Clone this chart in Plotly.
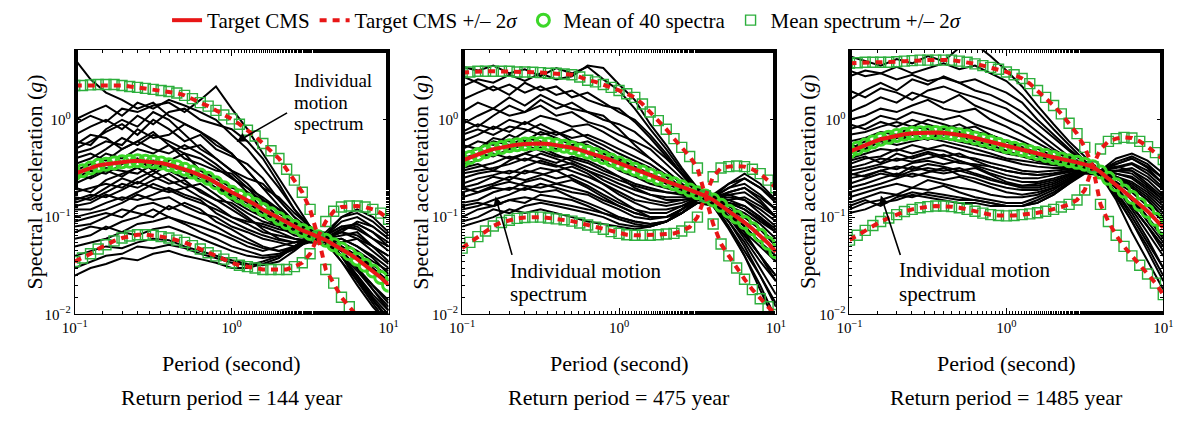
import plotly.graph_objects as go

# Period grids (s)
PERIOD_FINE = [0.1, 0.112, 0.126, 0.141, 0.158, 0.178, 0.2, 0.224, 0.251, 0.282,
               0.316, 0.355, 0.398, 0.447, 0.501, 0.562, 0.631, 0.708, 0.794, 0.891,
               1.0, 1.12, 1.26, 1.41, 1.58, 1.78, 2.0, 2.24, 2.51, 2.82,
               3.16, 3.55, 3.98, 4.47, 5.01, 5.62, 6.31, 7.08, 7.94, 8.91, 10.0]
PERIOD_REC = [0.1, 0.126, 0.158, 0.2, 0.251, 0.316, 0.398, 0.501, 0.631, 0.794,
              1.0, 1.26, 1.58, 2.0, 2.51, 3.16, 3.98, 5.01, 6.31, 7.94, 10.0]

# ---- Return period 144 years ----
CMS_144 = [0.28, 0.30, 0.32, 0.34, 0.35, 0.36, 0.37, 0.375, 0.38, 0.375,
           0.37, 0.36, 0.345, 0.33, 0.31, 0.29, 0.27, 0.25, 0.225, 0.20,
           0.18, 0.165, 0.15, 0.135, 0.12, 0.108, 0.097, 0.088, 0.08, 0.073,
           0.068, 0.063, 0.058, 0.052, 0.047, 0.042, 0.037, 0.032, 0.028, 0.024, 0.020]
UP_144 = [2.25, 2.25, 2.28, 2.3, 2.3, 2.3, 2.25, 2.2, 2.15, 2.1,
          2.05, 2.0, 1.95, 1.88, 1.78, 1.65, 1.5, 1.38, 1.25, 1.12,
          1.02, 0.9, 0.78, 0.68, 0.57, 0.48, 0.4, 0.31, 0.24, 0.18,
          0.12, 0.063, 0.09, 0.115, 0.127, 0.13, 0.13, 0.127, 0.12, 0.11, 0.095]
LO_144 = [0.035, 0.038, 0.042, 0.047, 0.052, 0.057, 0.061, 0.064, 0.066, 0.066,
          0.065, 0.063, 0.061, 0.058, 0.055, 0.051, 0.047, 0.043, 0.04, 0.037,
          0.034, 0.032, 0.031, 0.03, 0.029, 0.029, 0.029, 0.029, 0.031, 0.034,
          0.042, 0.063, 0.029, 0.021, 0.015, 0.012, 0.0095, 0.0075, 0.006, 0.005, 0.004]
REC_144 = [
    [4.2, 2.6, 1.9, 1.6, 1.3, 1.5, 1.1, 0.9, 0.75, 0.6, 0.45, 0.3, 0.2, 0.13, 0.09, 0.07, 0.065, 0.08, 0.075, 0.06, 0.05],
    [0.9, 1.1, 0.95, 1.3, 1.2, 1.4, 1.5, 1.2, 1.6, 2.2, 1.3, 0.8, 0.45, 0.25, 0.14, 0.08, 0.06, 0.07, 0.09, 0.08, 0.06],
    [0.7, 0.85, 1.0, 0.8, 1.1, 0.9, 1.2, 1.3, 1.0, 0.9, 0.8, 0.6, 0.4, 0.22, 0.12, 0.075, 0.055, 0.045, 0.03, 0.018, 0.011],
    [0.5, 0.6, 0.75, 0.9, 0.7, 1.0, 0.8, 0.6, 0.7, 0.5, 0.42, 0.35, 0.25, 0.15, 0.1, 0.07, 0.065, 0.1, 0.12, 0.1, 0.07],
    [0.45, 0.5, 0.6, 0.55, 0.8, 0.65, 0.7, 0.9, 0.75, 0.55, 0.45, 0.3, 0.2, 0.16, 0.11, 0.08, 0.06, 0.04, 0.025, 0.014, 0.009],
    [0.35, 0.4, 0.5, 0.65, 0.55, 0.7, 0.6, 0.5, 0.55, 0.4, 0.3, 0.25, 0.22, 0.15, 0.1, 0.075, 0.06, 0.055, 0.06, 0.05, 0.04],
    [0.3, 0.35, 0.45, 0.4, 0.5, 0.45, 0.55, 0.4, 0.35, 0.3, 0.28, 0.2, 0.14, 0.1, 0.085, 0.07, 0.058, 0.04, 0.025, 0.016, 0.011],
    [0.25, 0.3, 0.28, 0.35, 0.4, 0.3, 0.38, 0.45, 0.3, 0.25, 0.2, 0.18, 0.15, 0.12, 0.09, 0.07, 0.06, 0.065, 0.07, 0.05, 0.035],
    [0.22, 0.26, 0.32, 0.3, 0.28, 0.35, 0.3, 0.25, 0.27, 0.22, 0.16, 0.13, 0.1, 0.085, 0.075, 0.068, 0.06, 0.045, 0.03, 0.02, 0.014],
    [0.2, 0.18, 0.24, 0.28, 0.32, 0.26, 0.22, 0.24, 0.18, 0.15, 0.14, 0.11, 0.09, 0.08, 0.07, 0.065, 0.058, 0.06, 0.05, 0.04, 0.03],
    [0.18, 0.2, 0.22, 0.2, 0.25, 0.3, 0.24, 0.2, 0.22, 0.17, 0.13, 0.1, 0.075, 0.06, 0.055, 0.06, 0.062, 0.04, 0.022, 0.013, 0.008],
    [0.16, 0.15, 0.18, 0.22, 0.2, 0.24, 0.28, 0.22, 0.19, 0.15, 0.12, 0.095, 0.08, 0.07, 0.06, 0.058, 0.055, 0.04, 0.028, 0.018, 0.012],
    [0.15, 0.17, 0.16, 0.19, 0.23, 0.2, 0.18, 0.2, 0.16, 0.13, 0.1, 0.09, 0.085, 0.075, 0.07, 0.062, 0.06, 0.07, 0.065, 0.05, 0.04],
    [0.13, 0.14, 0.17, 0.15, 0.18, 0.22, 0.19, 0.16, 0.14, 0.12, 0.1, 0.085, 0.07, 0.065, 0.06, 0.055, 0.052, 0.045, 0.04, 0.032, 0.025],
    [0.12, 0.12, 0.14, 0.16, 0.15, 0.17, 0.2, 0.17, 0.15, 0.11, 0.09, 0.075, 0.065, 0.058, 0.055, 0.058, 0.06, 0.075, 0.08, 0.06, 0.045],
    [0.1, 0.11, 0.12, 0.14, 0.17, 0.15, 0.16, 0.13, 0.11, 0.1, 0.08, 0.07, 0.06, 0.055, 0.05, 0.055, 0.057, 0.04, 0.024, 0.014, 0.009],
    [0.09, 0.1, 0.11, 0.1, 0.13, 0.14, 0.12, 0.14, 0.12, 0.09, 0.075, 0.06, 0.05, 0.045, 0.05, 0.06, 0.06, 0.055, 0.045, 0.035, 0.028],
    [0.08, 0.085, 0.1, 0.12, 0.11, 0.1, 0.13, 0.11, 0.095, 0.08, 0.065, 0.055, 0.048, 0.045, 0.048, 0.058, 0.065, 0.09, 0.1, 0.08, 0.06],
    [0.07, 0.08, 0.075, 0.09, 0.1, 0.12, 0.1, 0.09, 0.08, 0.07, 0.06, 0.05, 0.045, 0.05, 0.055, 0.062, 0.06, 0.05, 0.04, 0.03, 0.022],
    [0.06, 0.065, 0.08, 0.07, 0.085, 0.09, 0.1, 0.085, 0.07, 0.06, 0.05, 0.045, 0.04, 0.042, 0.05, 0.06, 0.058, 0.04, 0.025, 0.015, 0.01],
    [0.05, 0.055, 0.06, 0.07, 0.065, 0.075, 0.08, 0.07, 0.06, 0.052, 0.045, 0.04, 0.038, 0.04, 0.047, 0.058, 0.062, 0.07, 0.06, 0.045, 0.033],
    [0.04, 0.045, 0.05, 0.048, 0.055, 0.06, 0.058, 0.05, 0.045, 0.04, 0.036, 0.033, 0.032, 0.035, 0.045, 0.06, 0.065, 0.08, 0.085, 0.07, 0.05],
    [0.03, 0.035, 0.04, 0.042, 0.05, 0.048, 0.052, 0.048, 0.042, 0.038, 0.034, 0.032, 0.035, 0.04, 0.05, 0.062, 0.058, 0.04, 0.024, 0.014, 0.009],
    [0.025, 0.03, 0.033, 0.038, 0.036, 0.042, 0.045, 0.04, 0.037, 0.034, 0.03, 0.03, 0.033, 0.038, 0.05, 0.065, 0.07, 0.1, 0.11, 0.09, 0.065],
    [0.55, 0.7, 0.65, 0.5, 0.6, 0.75, 0.55, 0.45, 0.4, 0.32, 0.25, 0.2, 0.16, 0.12, 0.09, 0.07, 0.055, 0.035, 0.02, 0.012, 0.008],
    [0.6, 0.55, 0.8, 1.0, 0.85, 1.2, 1.0, 0.7, 0.5, 0.4, 0.3, 0.22, 0.15, 0.11, 0.085, 0.068, 0.06, 0.045, 0.03, 0.02, 0.013],
    [0.4, 0.45, 0.38, 0.5, 0.6, 0.5, 0.45, 0.55, 0.45, 0.35, 0.26, 0.18, 0.12, 0.09, 0.075, 0.065, 0.062, 0.075, 0.085, 0.07, 0.055],
    [0.28, 0.25, 0.3, 0.26, 0.33, 0.38, 0.33, 0.3, 0.24, 0.2, 0.17, 0.14, 0.11, 0.09, 0.07, 0.06, 0.055, 0.035, 0.022, 0.014, 0.009],
    [0.14, 0.16, 0.2, 0.25, 0.22, 0.28, 0.35, 0.3, 0.26, 0.2, 0.15, 0.12, 0.1, 0.08, 0.065, 0.06, 0.058, 0.06, 0.05, 0.038, 0.026],
    [1.0, 1.2, 1.4, 1.1, 1.5, 1.3, 1.6, 1.4, 1.2, 1.0, 0.7, 0.5, 0.32, 0.2, 0.12, 0.08, 0.06, 0.05, 0.04, 0.028, 0.02],
]

# ---- Return period 475 years ----
CMS_475 = [0.38, 0.41, 0.44, 0.47, 0.50, 0.52, 0.54, 0.555, 0.565, 0.57,
           0.57, 0.565, 0.55, 0.535, 0.515, 0.49, 0.465, 0.44, 0.41, 0.385,
           0.36, 0.335, 0.31, 0.29, 0.27, 0.25, 0.235, 0.22, 0.205, 0.19,
           0.178, 0.165, 0.15, 0.132, 0.115, 0.1, 0.088, 0.076, 0.065, 0.054, 0.044]
UP_475 = [3.05, 3.1, 3.15, 3.15, 3.15, 3.15, 3.15, 3.1, 3.1, 3.08,
          3.05, 3.0, 3.0, 2.95, 2.9, 2.75, 2.55, 2.45, 2.3, 2.15,
          2.0, 1.85, 1.7, 1.45, 1.2, 0.98, 0.8, 0.64, 0.52, 0.42,
          0.32, 0.165, 0.26, 0.32, 0.33, 0.335, 0.33, 0.31, 0.28, 0.24, 0.2]
LO_475 = [0.048, 0.055, 0.063, 0.072, 0.081, 0.088, 0.093, 0.097, 0.099, 0.1,
          0.1, 0.098, 0.096, 0.094, 0.091, 0.087, 0.083, 0.079, 0.075, 0.071,
          0.068, 0.066, 0.065, 0.065, 0.065, 0.066, 0.067, 0.068, 0.072, 0.079,
          0.1, 0.165, 0.085, 0.053, 0.04, 0.03, 0.023, 0.018, 0.0145, 0.012, 0.01]
REC_475 = [
    [3.5, 3.2, 3.6, 3.0, 3.3, 2.8, 3.4, 3.0, 3.5, 2.6, 2.0, 1.3, 0.8, 0.5, 0.3, 0.2, 0.16, 0.2, 0.25, 0.2, 0.15],
    [2.2, 2.6, 2.4, 2.9, 2.5, 3.0, 2.6, 2.8, 3.6, 3.4, 2.3, 1.6, 0.9, 0.55, 0.32, 0.2, 0.15, 0.11, 0.08, 0.055, 0.04],
    [1.6, 1.9, 2.2, 1.8, 2.4, 2.0, 2.2, 1.7, 1.9, 1.5, 1.2, 1.0, 0.7, 0.45, 0.28, 0.19, 0.16, 0.18, 0.2, 0.15, 0.1],
    [1.2, 1.5, 1.3, 1.7, 1.4, 1.8, 1.5, 1.3, 1.2, 1.0, 0.9, 0.75, 0.55, 0.4, 0.28, 0.2, 0.15, 0.1, 0.06, 0.035, 0.022],
    [0.9, 1.1, 1.3, 1.1, 1.2, 1.4, 1.1, 1.2, 0.95, 0.85, 0.7, 0.6, 0.5, 0.35, 0.25, 0.18, 0.16, 0.22, 0.28, 0.22, 0.15],
    [0.75, 0.9, 0.8, 1.0, 0.9, 1.1, 1.0, 0.85, 0.9, 0.75, 0.6, 0.5, 0.4, 0.3, 0.22, 0.17, 0.14, 0.1, 0.065, 0.04, 0.025],
    [0.6, 0.7, 0.85, 0.75, 0.95, 0.8, 0.7, 0.8, 0.65, 0.55, 0.45, 0.38, 0.32, 0.26, 0.2, 0.17, 0.15, 0.14, 0.12, 0.09, 0.07],
    [0.5, 0.6, 0.55, 0.7, 0.6, 0.75, 0.65, 0.55, 0.6, 0.5, 0.4, 0.33, 0.28, 0.24, 0.2, 0.17, 0.15, 0.18, 0.2, 0.16, 0.12],
    [0.45, 0.5, 0.6, 0.55, 0.65, 0.6, 0.5, 0.55, 0.45, 0.38, 0.3, 0.26, 0.22, 0.2, 0.18, 0.17, 0.14, 0.09, 0.05, 0.025, 0.012],
    [0.4, 0.45, 0.42, 0.5, 0.55, 0.48, 0.42, 0.4, 0.36, 0.3, 0.26, 0.22, 0.2, 0.18, 0.17, 0.16, 0.15, 0.13, 0.1, 0.075, 0.055],
    [0.35, 0.38, 0.45, 0.4, 0.45, 0.52, 0.44, 0.38, 0.33, 0.28, 0.24, 0.21, 0.19, 0.18, 0.175, 0.17, 0.15, 0.16, 0.15, 0.11, 0.08],
    [0.3, 0.33, 0.36, 0.42, 0.38, 0.45, 0.4, 0.35, 0.3, 0.26, 0.22, 0.19, 0.17, 0.16, 0.16, 0.165, 0.14, 0.1, 0.07, 0.05, 0.035],
    [0.28, 0.3, 0.32, 0.35, 0.4, 0.36, 0.33, 0.36, 0.3, 0.24, 0.2, 0.17, 0.15, 0.14, 0.15, 0.16, 0.15, 0.14, 0.13, 0.1, 0.07],
    [0.25, 0.28, 0.3, 0.28, 0.33, 0.38, 0.34, 0.3, 0.26, 0.22, 0.18, 0.15, 0.14, 0.13, 0.14, 0.16, 0.15, 0.12, 0.08, 0.055, 0.035],
    [0.22, 0.25, 0.27, 0.3, 0.28, 0.32, 0.3, 0.33, 0.28, 0.22, 0.17, 0.14, 0.12, 0.12, 0.13, 0.15, 0.16, 0.2, 0.22, 0.17, 0.12],
    [0.2, 0.22, 0.26, 0.24, 0.3, 0.28, 0.25, 0.27, 0.23, 0.19, 0.15, 0.12, 0.11, 0.11, 0.13, 0.16, 0.15, 0.11, 0.07, 0.04, 0.022],
    [0.18, 0.2, 0.22, 0.26, 0.24, 0.27, 0.3, 0.25, 0.21, 0.17, 0.14, 0.12, 0.1, 0.1, 0.12, 0.15, 0.15, 0.13, 0.11, 0.085, 0.06],
    [0.16, 0.18, 0.2, 0.19, 0.23, 0.25, 0.22, 0.24, 0.2, 0.16, 0.13, 0.11, 0.1, 0.1, 0.12, 0.16, 0.16, 0.17, 0.15, 0.12, 0.09],
    [0.14, 0.15, 0.18, 0.2, 0.19, 0.22, 0.2, 0.18, 0.17, 0.14, 0.12, 0.1, 0.095, 0.1, 0.12, 0.15, 0.14, 0.09, 0.055, 0.03, 0.016],
    [0.12, 0.13, 0.15, 0.17, 0.2, 0.18, 0.19, 0.16, 0.14, 0.12, 0.1, 0.09, 0.085, 0.09, 0.11, 0.15, 0.155, 0.15, 0.13, 0.1, 0.075],
    [0.1, 0.12, 0.13, 0.15, 0.14, 0.17, 0.16, 0.15, 0.13, 0.11, 0.095, 0.085, 0.08, 0.09, 0.11, 0.14, 0.14, 0.1, 0.065, 0.04, 0.025],
    [0.09, 0.1, 0.12, 0.11, 0.13, 0.14, 0.13, 0.12, 0.11, 0.1, 0.085, 0.08, 0.08, 0.09, 0.12, 0.16, 0.17, 0.22, 0.25, 0.2, 0.14],
    [0.08, 0.09, 0.1, 0.12, 0.11, 0.12, 0.11, 0.1, 0.09, 0.085, 0.08, 0.075, 0.08, 0.09, 0.11, 0.15, 0.15, 0.12, 0.09, 0.065, 0.045],
    [2.8, 2.4, 2.0, 2.3, 1.9, 2.2, 1.8, 2.0, 1.6, 1.4, 1.3, 0.95, 0.65, 0.42, 0.27, 0.18, 0.13, 0.075, 0.04, 0.02, 0.009],
    [1.0, 0.85, 1.1, 1.4, 1.2, 1.6, 1.3, 1.5, 1.2, 1.1, 0.8, 0.55, 0.4, 0.3, 0.22, 0.17, 0.14, 0.08, 0.04, 0.018, 0.008],
    [0.55, 0.5, 0.65, 0.6, 0.75, 0.9, 0.75, 0.65, 0.7, 0.6, 0.5, 0.42, 0.35, 0.27, 0.2, 0.16, 0.14, 0.15, 0.16, 0.13, 0.1],
    [0.32, 0.35, 0.3, 0.38, 0.45, 0.4, 0.36, 0.42, 0.38, 0.32, 0.26, 0.2, 0.17, 0.15, 0.15, 0.16, 0.15, 0.17, 0.18, 0.14, 0.1],
    [0.2, 0.18, 0.21, 0.23, 0.21, 0.2, 0.22, 0.2, 0.18, 0.15, 0.13, 0.11, 0.1, 0.1, 0.11, 0.14, 0.13, 0.08, 0.045, 0.025, 0.013],
    [0.7, 0.8, 0.7, 0.85, 0.8, 0.7, 0.75, 0.6, 0.55, 0.45, 0.38, 0.32, 0.27, 0.22, 0.19, 0.17, 0.15, 0.12, 0.1, 0.075, 0.05],
    [0.13, 0.14, 0.13, 0.15, 0.16, 0.15, 0.14, 0.13, 0.12, 0.11, 0.1, 0.09, 0.085, 0.09, 0.11, 0.14, 0.15, 0.14, 0.12, 0.095, 0.07],
]

# ---- Return period 1485 years ----
CMS_1485 = [0.47, 0.51, 0.55, 0.59, 0.63, 0.66, 0.69, 0.71, 0.725, 0.735,
            0.74, 0.74, 0.735, 0.72, 0.70, 0.68, 0.65, 0.62, 0.59, 0.56,
            0.53, 0.51, 0.49, 0.47, 0.45, 0.43, 0.41, 0.395, 0.38, 0.365,
            0.35, 0.33, 0.29, 0.25, 0.215, 0.185, 0.16, 0.135, 0.115, 0.095, 0.078]
UP_1485 = [3.8, 3.85, 3.9, 3.9, 3.9, 3.9, 3.95, 4.0, 4.05, 4.1,
           4.1, 4.1, 4.1, 4.1, 4.0, 3.9, 3.75, 3.6, 3.45, 3.3,
           3.1, 2.9, 2.65, 2.35, 2.0, 1.7, 1.4, 1.15, 0.92, 0.72,
           0.52, 0.33, 0.5, 0.6, 0.64, 0.66, 0.65, 0.6, 0.53, 0.46, 0.39]
LO_1485 = [0.058, 0.065, 0.073, 0.082, 0.09, 0.098, 0.106, 0.114, 0.12, 0.125,
           0.128, 0.13, 0.13, 0.128, 0.125, 0.12, 0.115, 0.11, 0.106, 0.104,
           0.103, 0.104, 0.106, 0.108, 0.111, 0.115, 0.12, 0.127, 0.135, 0.15,
           0.19, 0.33, 0.135, 0.09, 0.065, 0.05, 0.04, 0.032, 0.026, 0.021, 0.016]
REC_1485 = [
    [4.5, 4.0, 3.6, 4.2, 3.8, 4.5, 4.0, 5.5, 6.0, 4.5, 3.2, 2.2, 1.4, 0.9, 0.6, 0.42, 0.3, 0.35, 0.4, 0.32, 0.22],
    [2.8, 3.2, 3.0, 3.5, 3.0, 3.4, 3.8, 3.3, 3.6, 3.0, 2.5, 1.8, 1.2, 0.8, 0.55, 0.38, 0.28, 0.2, 0.13, 0.08, 0.05],
    [1.6, 2.0, 2.4, 2.0, 2.6, 2.3, 2.8, 2.4, 2.0, 1.8, 1.5, 1.2, 0.9, 0.65, 0.48, 0.36, 0.3, 0.32, 0.35, 0.28, 0.2],
    [1.2, 1.4, 1.7, 1.5, 1.9, 1.7, 1.5, 1.8, 1.4, 1.2, 1.0, 0.85, 0.65, 0.5, 0.4, 0.33, 0.28, 0.2, 0.12, 0.07, 0.04],
    [1.0, 1.1, 1.3, 1.2, 1.4, 1.6, 1.3, 1.2, 1.3, 1.0, 0.85, 0.7, 0.58, 0.47, 0.4, 0.34, 0.3, 0.4, 0.45, 0.38, 0.28],
    [0.8, 0.9, 1.1, 1.0, 1.2, 1.1, 1.0, 1.1, 0.9, 0.8, 0.7, 0.6, 0.5, 0.42, 0.37, 0.33, 0.27, 0.18, 0.1, 0.055, 0.03],
    [0.7, 0.75, 0.85, 0.95, 0.85, 1.0, 0.9, 0.8, 0.85, 0.7, 0.6, 0.52, 0.46, 0.4, 0.36, 0.32, 0.28, 0.25, 0.2, 0.15, 0.1],
    [0.6, 0.65, 0.75, 0.7, 0.85, 0.8, 0.7, 0.75, 0.65, 0.6, 0.55, 0.48, 0.42, 0.38, 0.35, 0.33, 0.3, 0.33, 0.3, 0.22, 0.16],
    [0.5, 0.6, 0.55, 0.65, 0.7, 0.75, 0.65, 0.6, 0.55, 0.5, 0.45, 0.42, 0.38, 0.35, 0.33, 0.32, 0.28, 0.17, 0.09, 0.045, 0.022],
    [0.45, 0.5, 0.6, 0.55, 0.6, 0.65, 0.6, 0.55, 0.5, 0.45, 0.4, 0.38, 0.36, 0.34, 0.33, 0.32, 0.29, 0.26, 0.22, 0.17, 0.12],
    [0.4, 0.45, 0.5, 0.48, 0.55, 0.5, 0.55, 0.5, 0.45, 0.42, 0.38, 0.35, 0.33, 0.32, 0.32, 0.33, 0.3, 0.28, 0.25, 0.19, 0.14],
    [0.35, 0.4, 0.42, 0.5, 0.45, 0.5, 0.48, 0.42, 0.4, 0.36, 0.33, 0.3, 0.29, 0.3, 0.31, 0.32, 0.28, 0.2, 0.13, 0.08, 0.045],
    [0.32, 0.35, 0.4, 0.38, 0.42, 0.47, 0.42, 0.45, 0.38, 0.33, 0.3, 0.28, 0.27, 0.28, 0.3, 0.32, 0.3, 0.3, 0.28, 0.21, 0.15],
    [0.3, 0.32, 0.35, 0.4, 0.37, 0.4, 0.44, 0.38, 0.34, 0.3, 0.27, 0.25, 0.25, 0.27, 0.29, 0.31, 0.28, 0.22, 0.16, 0.1, 0.06],
    [0.27, 0.3, 0.33, 0.31, 0.36, 0.38, 0.35, 0.38, 0.33, 0.28, 0.25, 0.23, 0.23, 0.25, 0.28, 0.31, 0.3, 0.33, 0.36, 0.3, 0.22],
    [0.25, 0.27, 0.3, 0.33, 0.31, 0.35, 0.33, 0.3, 0.32, 0.27, 0.23, 0.21, 0.21, 0.23, 0.27, 0.3, 0.27, 0.18, 0.11, 0.06, 0.03],
    [0.22, 0.25, 0.28, 0.26, 0.3, 0.32, 0.3, 0.32, 0.28, 0.25, 0.22, 0.2, 0.2, 0.22, 0.26, 0.3, 0.29, 0.26, 0.21, 0.16, 0.11],
    [0.2, 0.22, 0.25, 0.28, 0.26, 0.29, 0.32, 0.27, 0.25, 0.22, 0.2, 0.19, 0.19, 0.21, 0.25, 0.3, 0.3, 0.28, 0.26, 0.2, 0.15],
    [0.18, 0.2, 0.22, 0.25, 0.28, 0.26, 0.24, 0.26, 0.23, 0.2, 0.18, 0.17, 0.18, 0.2, 0.24, 0.29, 0.27, 0.16, 0.09, 0.05, 0.025],
    [0.16, 0.18, 0.2, 0.22, 0.2, 0.24, 0.22, 0.2, 0.19, 0.17, 0.16, 0.16, 0.17, 0.2, 0.24, 0.3, 0.3, 0.35, 0.4, 0.33, 0.25],
    [0.14, 0.16, 0.18, 0.17, 0.2, 0.19, 0.21, 0.18, 0.16, 0.15, 0.14, 0.14, 0.16, 0.19, 0.24, 0.3, 0.28, 0.22, 0.15, 0.1, 0.065],
    [0.12, 0.14, 0.15, 0.17, 0.16, 0.18, 0.17, 0.16, 0.15, 0.14, 0.13, 0.13, 0.15, 0.18, 0.23, 0.29, 0.28, 0.26, 0.23, 0.18, 0.13],
    [0.11, 0.12, 0.14, 0.15, 0.17, 0.16, 0.15, 0.14, 0.14, 0.13, 0.13, 0.13, 0.14, 0.17, 0.22, 0.28, 0.27, 0.2, 0.13, 0.08, 0.05],
    [3.2, 2.8, 3.0, 2.6, 2.9, 2.5, 2.7, 2.4, 2.6, 2.2, 1.9, 1.5, 1.0, 0.7, 0.5, 0.37, 0.3, 0.22, 0.15, 0.09, 0.055],
    [2.0, 1.7, 2.1, 1.9, 1.6, 2.0, 2.2, 1.9, 1.7, 1.5, 1.3, 1.0, 0.75, 0.55, 0.42, 0.35, 0.3, 0.37, 0.42, 0.35, 0.25],
    [0.9, 0.8, 0.95, 0.85, 1.0, 0.9, 0.8, 0.9, 0.75, 0.7, 0.6, 0.5, 0.45, 0.4, 0.35, 0.32, 0.27, 0.15, 0.07, 0.035, 0.018],
    [0.55, 0.5, 0.65, 0.6, 0.7, 0.62, 0.75, 0.68, 0.6, 0.55, 0.48, 0.43, 0.38, 0.35, 0.34, 0.33, 0.29, 0.3, 0.32, 0.26, 0.19],
    [0.38, 0.42, 0.36, 0.45, 0.4, 0.45, 0.4, 0.36, 0.35, 0.33, 0.3, 0.28, 0.27, 0.28, 0.3, 0.32, 0.28, 0.23, 0.18, 0.13, 0.09],
    [0.28, 0.26, 0.3, 0.27, 0.33, 0.3, 0.28, 0.3, 0.27, 0.24, 0.22, 0.21, 0.22, 0.24, 0.27, 0.31, 0.29, 0.25, 0.2, 0.15, 0.1],
    [0.13, 0.15, 0.13, 0.16, 0.18, 0.17, 0.16, 0.15, 0.15, 0.14, 0.13, 0.13, 0.14, 0.17, 0.22, 0.29, 0.29, 0.3, 0.3, 0.24, 0.17],
]

RETURN_PERIODS = [144, 475, 1485]
PANELS = [
    (CMS_144, UP_144, LO_144, REC_144),
    (CMS_475, UP_475, LO_475, REC_475),
    (CMS_1485, UP_1485, LO_1485, REC_1485),
]

W, H = 1187, 424
FONT = "Liberation Serif"
RED = "rgb(232,22,22)"
GREEN_C = "rgb(60,215,40)"
GREEN_S = "rgb(44,175,60)"

# plot-area edges in pixels
X_LEFT = [63, 458, 853]
X_WIDTH = 320
Y_TOP, Y_BOT = 47, 319.5


def px(x):
    return x / W


def py(y):
    return 1 - y / H


fig = go.Figure()

for k, (cms, up, lo, recs) in enumerate(PANELS):
    xa = "x" if k == 0 else f"x{k + 1}"
    ya = "y" if k == 0 else f"y{k + 1}"
    first = k == 0

    # individual ground-motion spectra
    xs, ys = [], []
    for rec in recs:
        xs += PERIOD_REC + [None]
        ys += rec + [None]
    fig.add_trace(go.Scatter(x=xs, y=ys, mode="lines", xaxis=xa, yaxis=ya,
                             line=dict(color="black", width=2),
                             showlegend=False, hoverinfo="skip"))

    # mean of the selected spectra and its +/- 2 sigma band
    fig.add_trace(go.Scatter(x=PERIOD_FINE, y=cms, mode="markers", xaxis=xa, yaxis=ya,
                             marker=dict(symbol="circle-open", size=12, color=GREEN_C,
                                         line=dict(width=3, color=GREEN_C)),
                             name="Mean of 40 spectra", legendgroup="mean",
                             legendrank=3, showlegend=first))
    for j, band in enumerate((up, lo)):
        fig.add_trace(go.Scatter(x=PERIOD_FINE, y=band, mode="markers", xaxis=xa, yaxis=ya,
                                 marker=dict(symbol="square-open", size=10, color=GREEN_S,
                                             line=dict(width=1.4, color=GREEN_S)),
                                 name="Mean spectrum +/\u2013 2<i>\u03c3</i>",
                                 legendgroup="meanband", legendrank=4,
                                 showlegend=first and j == 0))

    # target conditional mean spectrum
    fig.add_trace(go.Scatter(x=PERIOD_FINE, y=cms, mode="lines", xaxis=xa, yaxis=ya,
                             line=dict(color=RED, width=4),
                             name="Target CMS", legendgroup="cms",
                             legendrank=1, showlegend=first))
    for j, band in enumerate((up, lo)):
        fig.add_trace(go.Scatter(x=PERIOD_FINE, y=band, mode="lines", xaxis=xa, yaxis=ya,
                                 line=dict(color=RED, width=4, dash="7px,6px"),
                                 name="Target CMS +/\u2013 2<i>\u03c3</i>",
                                 legendgroup="cmsband", legendrank=2,
                                 showlegend=first and j == 0))

axis_common = dict(type="log", showline=True, linecolor="black", linewidth=1,
                   mirror="allticks", ticks="inside", ticklen=6, tickcolor="black",
                   showgrid=False, zeroline=False,
                   tickfont=dict(family=FONT, size=15, color="black"),
                   minor=dict(ticks="inside", ticklen=3, tickcolor="black", showgrid=False))

layout_axes = {}
for k in range(3):
    sx = "xaxis" if k == 0 else f"xaxis{k + 1}"
    sy = "yaxis" if k == 0 else f"yaxis{k + 1}"
    ya = "y" if k == 0 else f"y{k + 1}"
    xa = "x" if k == 0 else f"x{k + 1}"
    layout_axes[sx] = dict(axis_common, range=[-1, 1], anchor=ya,
                           domain=[px(X_LEFT[k]), px(X_LEFT[k] + X_WIDTH)],
                           tickvals=[0.1, 1, 10],
                           ticktext=["10<sup>\u22121</sup>", "10<sup>0</sup>", "10<sup>1</sup>"])
    layout_axes[sy] = dict(axis_common, range=[-2, 0.72], anchor=xa,
                           domain=[py(Y_BOT), py(Y_TOP)],
                           tickvals=[0.01, 0.1, 1],
                           ticktext=["10<sup>\u22122</sup>", "10<sup>\u22121</sup>", "10<sup>0</sup>"])

annotations = []
title_font = dict(family=FONT, size=22, color="black")
for k in range(3):
    cx = X_LEFT[k] + X_WIDTH / 2
    annotations.append(dict(x=px(cx), y=py(370), xref="paper", yref="paper",
                            text="Period (second)", showarrow=False, font=title_font,
                            xanchor="center", yanchor="middle"))
    annotations.append(dict(x=px(cx), y=py(405), xref="paper", yref="paper",
                            text=f"Return period = {RETURN_PERIODS[k]} year", showarrow=False,
                            font=title_font, xanchor="center", yanchor="middle"))
    annotations.append(dict(x=px([22, 416, 811][k]), y=py(183), xref="paper", yref="paper",
                            text="Spectral acceleration (<i>g</i>)", textangle=-90,
                            showarrow=False, font=title_font,
                            xanchor="center", yanchor="middle"))

# callouts pointing at one of the individual spectra
for text, x, y, size in [("Individual", 285, 79, 19), ("motion", 285, 101, 19),
                         ("spectrum", 285, 123, 19),
                         ("Individual motion", 505, 275, 21), ("spectrum", 505, 298, 21),
                         ("Individual motion", 901, 274, 21), ("spectrum", 901, 298, 21)]:
    annotations.append(dict(x=px(x), y=py(y), xref="paper", yref="paper", text=text,
                            showarrow=False, font=dict(family=FONT, size=size, color="black"),
                            xanchor="left", yanchor="middle"))
for (hx, hy), (tx, ty) in [((228, 142), (280, 112)),
                           ((492, 198), (509, 258)),
                           ((885, 197), (905, 258))]:
    annotations.append(dict(x=px(hx), y=py(hy), xref="paper", yref="paper", text="",
                            showarrow=True, arrowhead=2, arrowsize=1.2, arrowwidth=1.6,
                            arrowcolor="black", ax=tx - hx, ay=ty - hy, standoff=0))

fig.update_layout(
    width=W, height=H,
    margin=dict(l=0, r=0, t=0, b=0),
    paper_bgcolor="white", plot_bgcolor="white",
    font=dict(family=FONT, color="black"),
    showlegend=True,
    legend=dict(orientation="h", x=px(565), xanchor="center", y=py(17), yanchor="middle",
                font=dict(family=FONT, size=21, color="black"),
                bgcolor="rgba(0,0,0,0)", itemwidth=30, traceorder="normal"),
    annotations=annotations,
    **layout_axes,
)

fig.write_html("out.html")
